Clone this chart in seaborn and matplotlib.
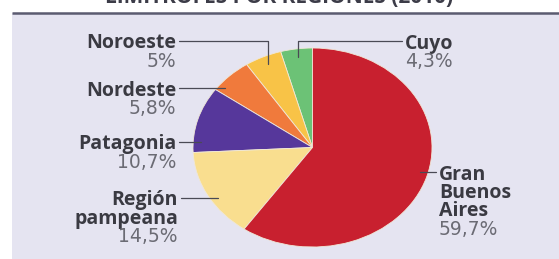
import numpy as np
import seaborn as sns
import matplotlib.pyplot as plt
from matplotlib.patches import Rectangle

# data (counterclockwise from 12 o'clock)
regions = ["Cuyo", "Noroeste", "Nordeste", "Patagonia", "Región\npampeana", "Gran\nBuenos\nAires"]
shares = [4.3, 5.0, 5.8, 10.7, 14.5, 59.7]
share_labels = ["4,3%", "5%", "5,8%", "10,7%", "14,5%", "59,7%"]
colors = ["#6cc276", "#f8c347", "#f07a3c", "#56379b", "#f9de8f", "#c8202f"]

title = "LIMÍTROFES POR REGIONES (2010)"

sns.set_theme(style="white")
plt.rcParams["font.family"] = ["Open Sans", "DejaVu Sans"]

W, H = 559, 259
fig = plt.figure(figsize=(W / 100, H / 100), dpi=100)
fig.patch.set_facecolor("white")

# pixel overlay axes for background, labels and leader lines
bg = fig.add_axes([0, 0, 1, 1], zorder=0)
bg.set_xlim(0, W)
bg.set_ylim(H, 0)
bg.axis("off")
bg.add_patch(Rectangle((12, 13), W - 12, H - 13, facecolor="#e5e4f1", edgecolor="none"))
bg.plot([12, W], [13, 13], color="#5b5b70", lw=1.8, solid_capstyle="butt")
fig.text(0.5, (H - 3) / H, title, ha="center", va="baseline", fontsize=15,
         fontweight="bold", color="#3c3c48")

# pie, stretched into an ellipse like the printed figure
cx, cy, rx, ry = 312.5, 147.5, 119.5, 99.5
pax = fig.add_axes([(cx - rx) / W, (H - cy - ry) / H, 2 * rx / W, 2 * ry / H], zorder=1)
wedges, _ = pax.pie(shares, colors=colors, startangle=90, counterclock=True, radius=1,
                    wedgeprops=dict(edgecolor="#f0e8d8", linewidth=0.6))
pax.set_aspect("auto")
pax.set_xlim(-1, 1)
pax.set_ylim(-1, 1)
pax.axis("off")

top = fig.add_axes([0, 0, 1, 1], zorder=2)
top.set_xlim(0, W)
top.set_ylim(H, 0)
top.axis("off")
top.patch.set_alpha(0)


def to_px(u, v):
    return cx + rx * u, cy - ry * v


def edge_x(y, side):
    v = (cy - y) / ry
    return cx + side * rx * np.sqrt(max(0.0, 1 - v * v))


mids = []
acc = 0.0
total = sum(shares)
for s in shares:
    mids.append(np.deg2rad(90 + 360 * (acc + s / 2) / total))
    acc += s

name_kw = dict(fontsize=14, fontweight="bold", color="#3a3a42")
pct_kw = dict(fontsize=13.5, color="#6b6b74", family=["DejaVu Sans"])
line_kw = dict(color="#4a4a55", lw=0.9)
pitch = 18.5

# label anchors: (x of text edge, y of first line centre, side, leader kind)
layout = {
    "Cuyo": (405, 41, "left", "elbow"),
    "Noroeste": (176, 41, "right", "elbow"),
    "Nordeste": (176, 88, "right", "flat"),
    "Patagonia": (176, 142, "right", "flat"),
    "Región\npampeana": (178, 198, "right", "flat"),
    "Gran\nBuenos\nAires": (439, 172, "left", "flat"),
}

for i, name in enumerate(regions):
    x, y, side, kind = layout[name]
    lines = name.split("\n")
    for k, ln in enumerate(lines):
        top.text(x, y + k * pitch, ln, ha=side, va="center_baseline", **name_kw)
    top.text(x, y + len(lines) * pitch, share_labels[i], ha=side, va="center_baseline", **pct_kw)
    gap = 3 if side == "right" else -3
    if kind == "elbow":
        px, py = to_px(0.9 * np.cos(mids[i]), 0.92 * np.sin(mids[i]))
        top.plot([x + gap, px, px], [y, y, py], **line_kw)
    else:
        sgn = -1 if side == "right" else 1
        ex = edge_x(y, sgn) - sgn * 8
        top.plot([x + gap, ex], [y, y], **line_kw)

fig.savefig("out.png", dpi=100)
